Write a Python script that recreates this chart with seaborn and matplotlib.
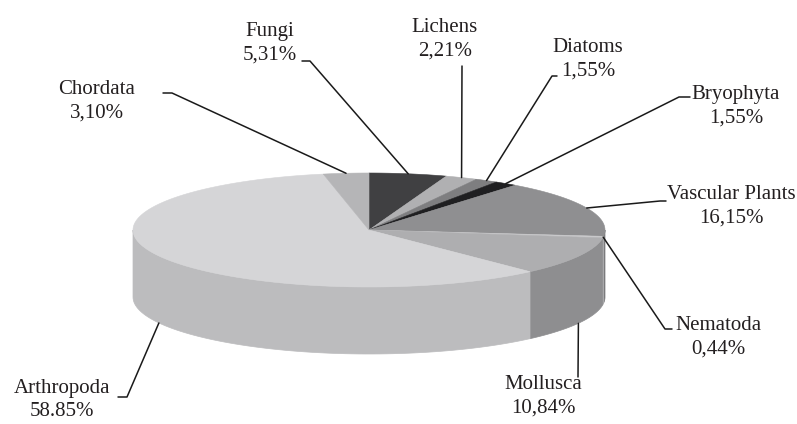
import numpy as np
import matplotlib
matplotlib.use("Agg")
import matplotlib.pyplot as plt
from matplotlib.patches import Polygon
import seaborn as sns

# Data (clockwise from 12 o'clock)
groups = ["Fungi", "Lichens", "Diatoms", "Bryophyta", "Vascular Plants",
          "Nematoda", "Mollusca", "Arthropoda", "Chordata"]
shares = [5.31, 2.21, 1.55, 1.55, 16.15, 0.44, 10.84, 58.85, 3.10]
share_labels = ["5,31%", "2,21%", "1,55%", "1,55%", "16,15%",
                "0,44%", "10,84%", "58.85%", "3,10%"]

# Styles
top_colors = ["#404042", "#b0b0b2", "#7e7e80", "#1f1f21", "#8f8f91",
              "#c9c9cb", "#aeaeb0", "#d5d5d7", "#b5b5b7"]
side_colors = ["#343436", "#959597", "#6a6a6c", "#1a1a1c", "#7a7a7c",
               "#b0b0b2", "#8e8e90", "#bcbcbe", "#9a9a9c"]

# Layout (pixels, y down)
cx, cy, rx, ry, depth = 369, 230, 236, 57, 67
text_pos = [(270, 43), (445, 39), (588, 59), (736, 106), (731, 206),
            (718, 337), (543, 396), (62, 400), (97, 101)]
leader_start = [[(302, 61), (310, 61)], [(462, 66)], [(557, 76), (552, 76)],
                [(690, 97), (679, 97)], [(666, 201), (660, 201)],
                [(672, 329), (665, 329)], [(578, 377)],
                [(118, 397), (127, 397)], [(163, 93), (172, 93)]]
anchor_on_bottom = [False, False, False, False, False, False, True, True, False]


def ellipse_pt(theta, dy=0.0):
    return cx + rx * np.sin(theta), cy - ry * np.cos(theta) + dy


sns.set_theme(style="white")
plt.rcParams["font.family"] = ["Liberation Serif", "DejaVu Serif"]

fig = plt.figure(figsize=(7.97, 4.24), dpi=100)
ax = fig.add_axes([0, 0, 1, 1])
ax.set_xlim(0, 797)
ax.set_ylim(424, 0)
ax.axis("off")

fracs = np.array(shares) / np.sum(shares)
edges = np.concatenate([[0], np.cumsum(fracs)]) * 2 * np.pi

# Side walls (front half only)
for i in range(len(groups)):
    lo = max(edges[i], np.pi / 2)
    hi = min(edges[i + 1], 3 * np.pi / 2)
    if hi <= lo:
        continue
    t = np.linspace(lo, hi, 80)
    xs, ys = ellipse_pt(t)
    xb, yb = ellipse_pt(t[::-1], depth)
    pts = np.column_stack([np.concatenate([xs, xb]), np.concatenate([ys, yb])])
    ax.add_patch(Polygon(pts, closed=True, facecolor=side_colors[i],
                         edgecolor=side_colors[i], linewidth=0.5))

# Top faces
for i in range(len(groups)):
    t = np.linspace(edges[i], edges[i + 1], 200)
    xs, ys = ellipse_pt(t)
    pts = np.column_stack([np.concatenate([[cx], xs]), np.concatenate([[cy], ys])])
    ax.add_patch(Polygon(pts, closed=True, facecolor=top_colors[i],
                         edgecolor=top_colors[i], linewidth=0.4))

# Labels and leader lines
for i, name in enumerate(groups):
    mid = (edges[i] + edges[i + 1]) / 2
    ax_, ay_ = ellipse_pt(mid, depth if anchor_on_bottom[i] else 0)
    pts = leader_start[i] + [(ax_, ay_)]
    ax.plot([p[0] for p in pts], [p[1] for p in pts], color="#1a1a1a", lw=1.1)
    tx, ty = text_pos[i]
    ax.text(tx, ty, f"{name}\n{share_labels[i]}", ha="center", va="center",
            multialignment="center", fontsize=15, color="#231f20", linespacing=1.3)

fig.savefig("out.png", dpi=100)
